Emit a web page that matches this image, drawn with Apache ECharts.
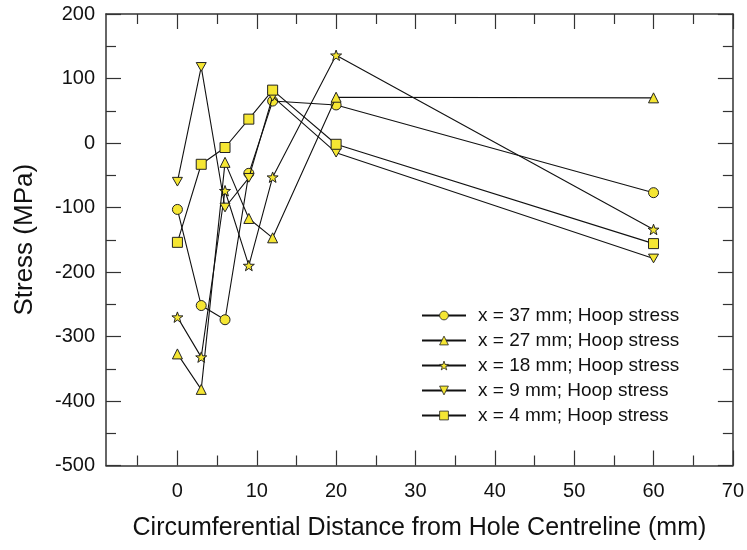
<!DOCTYPE html>
<html>
<head>
<meta charset="utf-8">
<script src="https://cdn.jsdelivr.net/npm/echarts@6/dist/echarts.min.js"></script>
<style>
html,body{margin:0;padding:0;background:#fff;}
#chart{width:747px;height:550px;}
</style>
</head>
<body>
<div id="chart"></div>
<script>
const distances = [0, 3, 6, 9, 12, 20, 60];
const seriesNames = [
  'x = 37 mm; Hoop stress',
  'x = 27 mm; Hoop stress',
  'x = 18 mm; Hoop stress',
  'x = 9 mm; Hoop stress',
  'x = 4 mm; Hoop stress'
];
const stress37 = [-103, -252, -274, -47, 65, 59, -77];
const stress27 = [-327, -382, -30, -117, -147, 71, 70];
const stress18 = [-270, -332, -74, -190, -53, 136, -134];
const stress9  = [-60, 118, -100, -54, 72, -15, -179];
const stress4  = [-154, -33, -7, 37, 82, -2, -156];
const xMajorTicks = [0, 10, 20, 30, 40, 50, 60, 70];
const xMinorTicks = [-5, 5, 15, 25, 35, 45, 55, 65];

const starPath = 'path://M50 0 L61.76 33.82 L97.55 34.55 L69.02 56.18 L79.39 90.45 L50 70 L20.61 90.45 L30.98 56.18 L2.45 34.55 L38.24 33.82 Z';
const downTri = 'path://M0 0 L100 0 L50 87 Z';
const symbols = ['circle', 'triangle', starPath, downTri, 'rect'];
const allData = [stress37, stress27, stress18, stress9, stress4];

const FONT = 'Liberation Sans, Arial, sans-serif';
const AXIS_COLOR = '#333';
const YELLOW = '#f5e633';

const chart = echarts.init(document.getElementById('chart'), null, {renderer: 'canvas'});

function xAxisDef(pos, ticks, len, withLabels, withLine, extra) {
  return Object.assign({
    type: 'value', position: pos, min: -9, max: 70, gridIndex: 0,
    axisLine: {show: withLine, onZero: false, lineStyle: {color: AXIS_COLOR, width: 1.5}},
    axisTick: {show: true, inside: true, length: len, customValues: ticks, lineStyle: {color: AXIS_COLOR, width: 1.2}},
    axisLabel: withLabels ? {show: true, customValues: ticks, fontSize: 20, fontFamily: FONT, color: '#111', margin: 16} : {show: false},
    splitLine: {show: false}
  }, extra || {});
}
function yAxisDef(pos, withLabels, extra) {
  return Object.assign({
    type: 'value', position: pos, min: -500, max: 200, interval: 100, gridIndex: 0,
    axisLine: {show: true, onZero: false, lineStyle: {color: AXIS_COLOR, width: 1.5}},
    axisTick: {show: true, inside: true, length: 15, lineStyle: {color: AXIS_COLOR, width: 1.2}},
    minorTick: {show: true, splitNumber: 2, length: 10, lineStyle: {color: AXIS_COLOR, width: 1.2}},
    axisLabel: withLabels ? {show: true, fontSize: 20, fontFamily: FONT, color: '#111', margin: 11} : {show: false},
    splitLine: {show: false}, minorSplitLine: {show: false}
  }, extra || {});
}

const series = seriesNames.map((name, i) => ({
  name: name,
  type: 'line',
  xAxisIndex: 0, yAxisIndex: 0,
  data: distances.map((d, k) => [d, allData[i][k]]),
  symbol: symbols[i],
  symbolSize: i === 2 ? 11 : 10,
  symbolKeepAspect: true,
  lineStyle: {color: '#111', width: 1.1},
  itemStyle: {color: YELLOW, borderColor: '#222', borderWidth: 1},
  emphasis: {disabled: true},
  animation: false,
  z: 3 + i
}));

chart.setOption({
  animation: false,
  backgroundColor: '#fff',
  grid: {left: 106, right: 13, top: 14, bottom: 84.5, containLabel: false},
  xAxis: [
    xAxisDef('bottom', xMajorTicks, 15, true, true, {
      name: 'Circumferential Distance from Hole Centreline (mm)',
      nameLocation: 'middle', nameGap: 50,
      nameTextStyle: {fontSize: 25, fontFamily: FONT, color: '#111'}
    }),
    xAxisDef('bottom', xMinorTicks, 10, false, false),
    xAxisDef('top', xMajorTicks, 15, false, true),
    xAxisDef('top', xMinorTicks, 10, false, false)
  ],
  yAxis: [
    yAxisDef('left', true, {
      name: 'Stress (MPa)', nameLocation: 'middle', nameGap: 68,
      nameTextStyle: {fontSize: 26, fontFamily: FONT, color: '#111'}
    }),
    yAxisDef('right', false)
  ],
  legend: {
    show: true,
    orient: 'vertical',
    left: 421, top: 306,
    padding: 0,
    itemWidth: 44, itemHeight: 11, itemGap: 6,
    selectedMode: false,
    data: seriesNames,
    itemStyle: {borderWidth: 0.8},
    textStyle: {fontSize: 19, fontFamily: FONT, color: '#111', padding: [0, 0, 0, 7]}
  },
  series: series
});
</script>
</body>
</html>
